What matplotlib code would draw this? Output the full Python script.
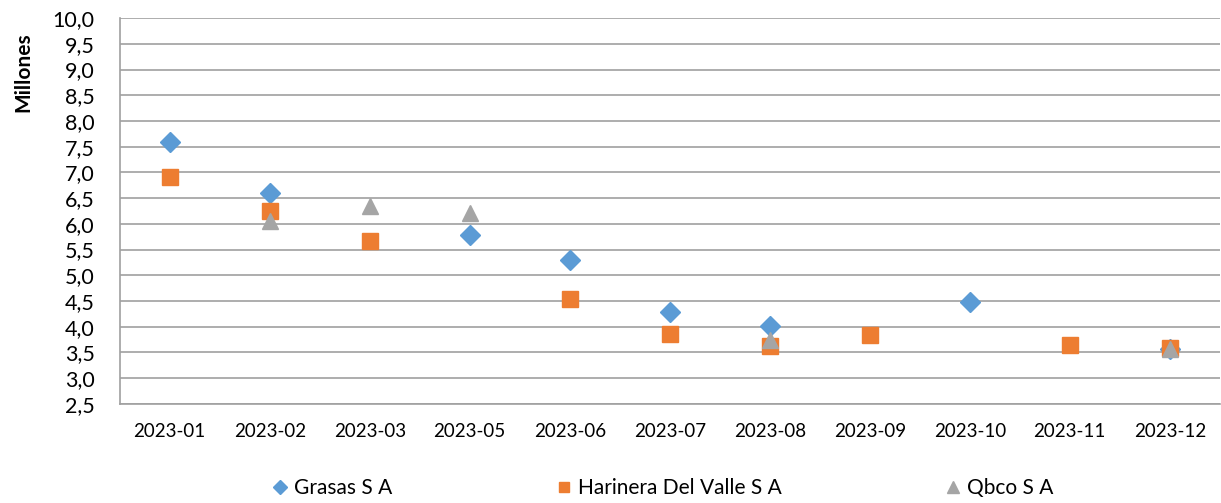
import numpy as np
import matplotlib.pyplot as plt

meses = ['2023-01', '2023-02', '2023-03', '2023-05', '2023-06', '2023-07',
         '2023-08', '2023-09', '2023-10', '2023-11', '2023-12']

# valores en millones, NaN = sin dato ese mes
grasas = [7.60, 6.60, np.nan, 5.78, 5.29, 4.29, 4.01, np.nan, 4.48, np.nan, 3.57]
harinera = [6.92, 6.25, 5.67, np.nan, 4.53, 3.86, 3.62, 3.84, np.nan, 3.64, 3.58]
qbco = [np.nan, 6.06, 6.35, 6.22, np.nan, np.nan, 3.74, np.nan, np.nan, np.nan, 3.57]

plt.rcParams['font.family'] = ['Lato', 'DejaVu Sans']

fig = plt.figure(figsize=(12.21, 5.03), dpi=100)
ax = fig.add_axes([0.098, 0.197, 0.901, 0.767])

x = np.arange(len(meses))
ax.plot(x, grasas, linestyle='none', marker='D', markersize=10.5,
        color='#5B9BD5', label='Grasas S A')
ax.plot(x, harinera, linestyle='none', marker='s', markersize=11,
        color='#ED7D31', label='Harinera Del Valle S A')
ax.plot(x, qbco, linestyle='none', marker='^', markersize=12,
        color='#A5A5A5', label='Qbco S A')

ax.set_xlim(-0.5, len(meses) - 0.5)
ax.set_ylim(2.5, 10.0)
yt = np.arange(2.5, 10.01, 0.5)
ax.set_yticks(yt)
ax.set_yticklabels([f'{v:.1f}'.replace('.', ',') for v in yt], fontsize=15.5)
ax.set_xticks(x)
ax.set_xticklabels(meses, fontsize=13.5)
ax.tick_params(axis='y', length=0, pad=18)
ax.tick_params(axis='x', length=0, pad=14)

ax.grid(axis='y', color='#A0A0A0', linewidth=1.2)
ax.set_axisbelow(True)
for s in ['top', 'right']:
    ax.spines[s].set_visible(False)
for s in ['left', 'bottom']:
    ax.spines[s].set_color('#A0A0A0')
    ax.spines[s].set_linewidth(1.2)

ax.set_ylabel('Millones', fontsize=15, fontweight='bold')
ax.yaxis.set_label_coords(-0.078, 0.86)

# título cortado por el borde superior, como en el original
fig.text(0.54, 1.03, 'Precio promedio y tendencia', ha='center', va='center',
         fontsize=16, fontweight='bold')

fig.legend(loc='center', bbox_to_anchor=(0.541, 0.03), ncol=3, frameon=False,
           fontsize=15, columnspacing=7.6, handletextpad=0.1, markerscale=0.7,
           handlelength=1.2)

fig.savefig('out.png', dpi=100)
